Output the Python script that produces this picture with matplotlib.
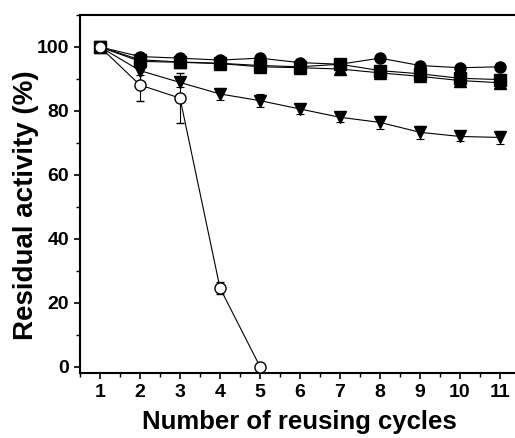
import matplotlib
matplotlib.use("Agg")
import matplotlib.pyplot as plt
from matplotlib.ticker import MultipleLocator

plt.rcParams['font.family'] = ['Liberation Sans', 'DejaVu Sans']
plt.rcParams['font.weight'] = 'bold'

cycles = [1, 2, 3, 4, 5, 6, 7, 8, 9, 10, 11]
filled_circle = [100, 97.0, 96.5, 95.9, 96.5, 95.1, 94.6, 96.5, 94.2, 93.5, 93.8]
filled_circle_err = [0.5, 0.8, 0.8, 0.8, 0.8, 0.8, 0.8, 0.8, 0.8, 0.8, 0.8]
filled_square = [100, 96.0, 95.3, 94.9, 94.2, 93.8, 94.6, 92.6, 91.6, 90.2, 89.8]
filled_square_err = [0.5, 1.0, 1.0, 1.0, 1.0, 1.0, 1.0, 1.0, 1.0, 1.0, 1.0]
tri_up = [100, 95.5, 95.2, 94.8, 93.8, 93.5, 93.1, 91.9, 90.8, 89.5, 88.8]
tri_up_err = [0.5, 1.2, 1.5, 1.5, 1.5, 1.5, 1.5, 1.2, 1.2, 1.2, 1.5]
tri_down = [100, 92.6, 88.9, 85.3, 83.2, 80.6, 78.0, 76.4, 73.3, 72.0, 71.7]
tri_down_err = [0.5, 1.5, 1.5, 2.0, 2.0, 1.5, 1.5, 2.0, 2.0, 1.5, 2.0]
open_cycles = [1, 2, 3, 4, 5]
open_circle = [100, 88.1, 84.0, 24.6, 0.0]
open_circle_err = [0.5, 5.0, 7.8, 2.0, 0.0]

fig = plt.figure(figsize=(5.15, 4.38), dpi=100)
ax = fig.add_axes([80/515, 1 - 373/438, 440/515, 358/438])

common = dict(color='black', lw=0.8, capsize=3, elinewidth=0.8, capthick=0.8, ms=8)
ax.errorbar(cycles, tri_up, yerr=tri_up_err, marker='^', mfc='black', mec='black', **common)
ax.errorbar(cycles, filled_square, yerr=filled_square_err, marker='s', mfc='black', mec='black', **common)
ax.errorbar(cycles, filled_circle, yerr=filled_circle_err, marker='o', mfc='black', mec='black', **common)
ax.errorbar(cycles, tri_down, yerr=tri_down_err, marker='v', mfc='black', mec='black', **common)
ax.errorbar(open_cycles, open_circle, yerr=open_circle_err, marker='o', mfc='white', mec='black', mew=1.0, zorder=5, **common)

ax.set_xlim(0.5, 11.5)
ax.set_ylim(-2, 110)
ax.xaxis.set_major_locator(MultipleLocator(1))
ax.xaxis.set_minor_locator(MultipleLocator(0.5))
ax.yaxis.set_major_locator(MultipleLocator(20))
ax.yaxis.set_minor_locator(MultipleLocator(10))
ax.tick_params(which='major', direction='out', length=4.3, width=1.2, labelsize=14, top=False, right=False)
ax.tick_params(which='minor', direction='out', length=3, width=1.0, top=False, right=False)
for lab in ax.get_xticklabels() + ax.get_yticklabels():
    lab.set_fontweight('bold')
for s in ['left', 'bottom', 'top']:
    ax.spines[s].set_linewidth(1.5)
ax.spines['right'].set_visible(False)

ax.set_xlabel('Number of reusing cycles', fontsize=18.5, fontweight='bold')
ax.set_ylabel('Residual activity (%)', fontsize=20, fontweight='bold')
ax.xaxis.set_label_coords((299.5 - 80) / 440, (373 - 410) / 358)
ax.yaxis.set_label_coords((39 - 80) / 440, (373 - 205) / 358)

fig.savefig('out.png', dpi=100)
